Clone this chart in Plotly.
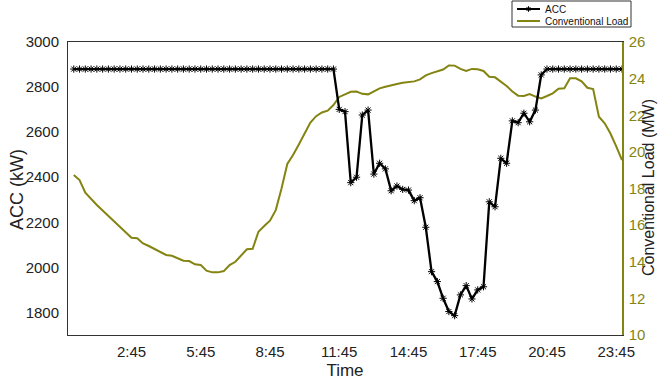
import plotly.graph_objects as go

# 15-minute intervals, index 1..96 (00:15 .. 24:00)
steps = list(range(1, 97))

# ACC demand (kW)
acc_kw = [2880] * 46 + [
    2701, 2691, 2376, 2400, 2676, 2698, 2414, 2462, 2437, 2340,
    2361, 2346, 2343, 2296, 2309, 2178, 1981, 1937, 1863, 1804,
    1786, 1878, 1919, 1860, 1900, 1914, 2291, 2269, 2484, 2462,
    2650, 2642, 2684, 2646, 2698, 2854,
] + [2880] * 14

# Conventional load (MW)
conv_mw = [
    18.74, 18.46, 17.77, 17.42, 17.10, 16.80, 16.50, 16.20, 15.90, 15.60,
    15.31, 15.28, 15.00, 14.86, 14.70, 14.55, 14.37, 14.33, 14.20, 14.06,
    14.04, 13.86, 13.82, 13.51, 13.42, 13.42, 13.49, 13.82, 14.00, 14.35,
    14.68, 14.71, 15.64, 15.95, 16.24, 16.82, 18.00, 19.34, 19.83, 20.40,
    21.00, 21.60, 21.95, 22.15, 22.25, 22.56, 23.00, 23.14, 23.28, 23.29,
    23.17, 23.14, 23.30, 23.47, 23.56, 23.65, 23.71, 23.78, 23.80, 23.85,
    23.96, 24.18, 24.30, 24.40, 24.50, 24.72, 24.71, 24.53, 24.42, 24.53,
    24.51, 24.42, 24.10, 24.07, 23.85, 23.60, 23.30, 23.07, 23.05, 23.16,
    23.02, 22.92, 23.05, 23.20, 23.45, 23.47, 24.02, 24.02, 23.85, 23.50,
    23.43, 21.92, 21.56, 21.00, 20.30, 19.55,
]

tick_pos = [11, 23, 35, 47, 59, 71, 83, 95]
tick_text = ["2:45", "5:45", "8:45", "11:45", "14:45", "17:45", "20:45", "23:45"]
legend_names = ["ACC", "Conventional Load"]

OLIVE = "#848412"
FONT = "Liberation Sans, Arial, sans-serif"

# figure / plot-area geometry in pixels
W, H = 658, 380
ML, MR, MT, MB = 68, 36, 42, 45
PW, PH = W - ML - MR, H - MT - MB


def px(xp):
    """pixel x -> paper x"""
    return (xp - ML) / PW


def py(yp):
    """pixel y (from top) -> paper y"""
    return (H - MB - yp) / PH


fig = go.Figure()

fig.add_trace(go.Scatter(
    x=steps, y=acc_kw, name=legend_names[0], yaxis="y2",
    mode="lines+markers",
    line=dict(color="black", width=2.3),
    marker=dict(symbol="asterisk-open", size=6, color="black",
                line=dict(color="black", width=1)),
))
fig.add_trace(go.Scatter(
    x=steps, y=conv_mw, name=legend_names[1], yaxis="y",
    mode="lines",
    line=dict(color=OLIVE, width=2),
))

# compact boxed legend above the top-right corner
shapes = [
    dict(type="rect", xref="paper", yref="paper",
         x0=px(512), x1=px(631), y0=py(27), y1=py(1),
         line=dict(color="#333", width=1), fillcolor="white", layer="above"),
    dict(type="line", xref="paper", yref="paper",
         x0=px(517), x1=px(540), y0=py(9), y1=py(9),
         line=dict(color="black", width=2), layer="above"),
    dict(type="line", xref="paper", yref="paper",
         x0=px(517), x1=px(540), y0=py(21), y1=py(21),
         line=dict(color=OLIVE, width=2), layer="above"),
]
# asterisk on the ACC legend sample
cx, cy, r = 528.5, 9, 2.8
star_path = (
    f"M{px(cx - r)},{py(cy)} L{px(cx + r)},{py(cy)} "
    f"M{px(cx)},{py(cy - r)} L{px(cx)},{py(cy + r)} "
    f"M{px(cx - r * 0.7)},{py(cy - r * 0.7)} L{px(cx + r * 0.7)},{py(cy + r * 0.7)} "
    f"M{px(cx - r * 0.7)},{py(cy + r * 0.7)} L{px(cx + r * 0.7)},{py(cy - r * 0.7)}"
)
shapes.append(dict(type="path", xref="paper", yref="paper", path=star_path,
                   line=dict(color="black", width=1), layer="above"))

annotations = [
    dict(text=legend_names[0], xref="paper", yref="paper", x=px(543), y=py(9),
         xanchor="left", yanchor="middle", showarrow=False,
         font=dict(size=10, color="#111")),
    dict(text=legend_names[1], xref="paper", yref="paper", x=px(543), y=py(21),
         xanchor="left", yanchor="middle", showarrow=False,
         font=dict(size=10, color="#111")),
    # y-axis titles
    dict(text="ACC (kW)", xref="paper", yref="paper", x=px(17), y=py(190),
         xanchor="center", yanchor="middle", textangle=-90, showarrow=False,
         font=dict(size=18, color="#222")),
    dict(text="Conventional Load (MW)", xref="paper", yref="paper", x=px(648), y=py(188),
         xanchor="center", yanchor="middle", textangle=-90, showarrow=False,
         borderpad=0, font=dict(size=16, color="#222")),
]

fig.update_layout(
    width=W, height=H,
    margin=dict(l=ML, r=MR, t=MT, b=MB, autoexpand=False),
    paper_bgcolor="white", plot_bgcolor="white",
    font=dict(family=FONT, size=15, color="#222"),
    showlegend=False,
    shapes=shapes,
    annotations=annotations,
    xaxis=dict(
        range=[0, 96], tickvals=tick_pos, ticktext=tick_text,
        showgrid=False, zeroline=False, ticks="", ticklabelstandoff=3,
        showline=True, linecolor="#333", linewidth=1, mirror=True,
        title=dict(text="Time", font=dict(size=17), standoff=6),
    ),
    yaxis=dict(
        range=[10, 26], dtick=2, side="right",
        showgrid=False, zeroline=False, ticks="", ticklabelstandoff=2,
        showline=True, linecolor=OLIVE, linewidth=1.5,
        tickfont=dict(color=OLIVE),
    ),
    yaxis2=dict(
        range=[1700, 3000], tickvals=[1800, 2000, 2200, 2400, 2600, 2800, 3000],
        overlaying="y", side="left",
        showgrid=False, zeroline=False, ticks="", ticklabelstandoff=5,
        showline=True, linecolor="#333", linewidth=1,
    ),
)

fig.write_html("out.html")
